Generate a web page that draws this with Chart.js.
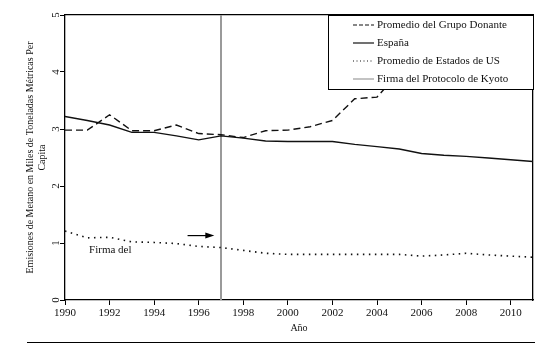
<!DOCTYPE html>
<html>
<head>
<meta charset="utf-8">
<script src="https://cdn.jsdelivr.net/npm/chart.js@4.4.0/dist/chart.umd.min.js"></script>
<style>
html, body { margin: 0; padding: 0; background: #fff; }
#wrap { position: relative; width: 554px; height: 350px; }
</style>
</head>
<body>
<div id="wrap"><canvas id="metano"></canvas></div>
<script>
// emisiones de metano per capita, 1990-2011
const years = [1990,1991,1992,1993,1994,1995,1996,1997,1998,1999,2000,2001,2002,2003,2004,2005,2006,2007,2008,2009,2010,2011];
// grupo donante: the rest is hidden behind the legend box
const donante = [2.98,2.98,3.25,2.97,2.97,3.07,2.92,2.90,2.85,2.97,2.98,3.04,3.15,3.53,3.56,4.00];
const espana = [3.22,3.15,3.07,2.94,2.94,2.88,2.81,2.88,2.84,2.79,2.78,2.78,2.78,2.73,2.69,2.65,2.57,2.54,2.52,2.49,2.46,2.43];
const usProm = [1.21,1.09,1.10,1.02,1.01,0.99,0.94,0.92,0.87,0.82,0.80,0.80,0.80,0.80,0.80,0.80,0.77,0.79,0.82,0.79,0.77,0.75];
const kyotoYear = 1997;
const yTicks = [0,1,2,3,4,5];

const serif = '"Liberation Serif", "DejaVu Serif", serif';
Chart.defaults.font.family = serif;
Chart.defaults.font.size = 11;
Chart.defaults.color = '#111';

function pts(arr) {
    return arr.map((v, i) => ({x: years[i], y: v}));
}

// legend drawn as a boxed panel in the top right corner
const legendBox = {
    id: 'legendBox',
    afterDatasetsDraw(chart) {
        const {ctx, chartArea} = chart;
        const w = 205, h = 74;
        const x0 = chartArea.right - w, y0 = chartArea.top;
        ctx.save();
        ctx.fillStyle = '#fff';
        ctx.fillRect(x0, y0, w, h);
        ctx.strokeStyle = '#000';
        ctx.lineWidth = 1;
        ctx.strokeRect(x0 + 0.5, y0 + 0.5, w, h);
        chart.data.datasets.forEach((ds, i) => {
            const y = y0 + 10 + i * 18;
            ctx.beginPath();
            ctx.setLineDash(ds.legendDash || []);
            ctx.strokeStyle = ds.borderColor;
            ctx.lineWidth = ds.legendWidth || 1.2;
            ctx.moveTo(x0 + 25, y);
            ctx.lineTo(x0 + 46, y);
            ctx.stroke();
            ctx.setLineDash([]);
            ctx.fillStyle = '#111';
            ctx.font = '11px ' + serif;
            ctx.textBaseline = 'middle';
            ctx.textAlign = 'left';
            ctx.fillText(ds.label, x0 + 49, y + 0.5);
        });
        ctx.restore();
    }
};

// arrow + "Firma del" note, and the rule under the figure
const notes = {
    id: 'notes',
    afterDraw(chart) {
        const {ctx} = chart;
        const xs = chart.scales.x, ys = chart.scales.y;
        const ax0 = xs.getPixelForValue(1995.5), ax1 = xs.getPixelForValue(1996.7);
        const ay = ys.getPixelForValue(1.13);
        ctx.save();
        ctx.strokeStyle = '#000';
        ctx.fillStyle = '#000';
        ctx.lineWidth = 1.2;
        ctx.beginPath();
        ctx.moveTo(ax0, ay);
        ctx.lineTo(ax1 - 6, ay);
        ctx.stroke();
        ctx.beginPath();
        ctx.moveTo(ax1, ay);
        ctx.lineTo(ax1 - 9, ay - 3);
        ctx.lineTo(ax1 - 9, ay + 3);
        ctx.closePath();
        ctx.fill();

        ctx.font = '11px ' + serif;
        ctx.fillStyle = '#111';
        ctx.textBaseline = 'middle';
        ctx.fillText('Firma del', xs.getPixelForValue(1991.08), ys.getPixelForValue(0.88));

        ctx.lineWidth = 1.2;
        ctx.beginPath();
        ctx.moveTo(27, 342.5);
        ctx.lineTo(535, 342.5);
        ctx.stroke();
        ctx.restore();
    }
};

new Chart('metano', {
    type: 'line',
    data: {
        datasets: [{
            label: 'Promedio del Grupo Donante',
            data: pts(donante),
            borderColor: '#111',
            borderWidth: 1.4,
            borderDash: [7, 4],
            legendDash: [4, 2],
            legendWidth: 1.2
        }, {
            label: 'España',
            data: pts(espana),
            borderColor: '#111',
            borderWidth: 1.4
        }, {
            label: 'Promedio de Estados de US',
            data: pts(usProm),
            borderColor: '#111',
            borderWidth: 1.6,
            borderDash: [1.5, 4.5],
            legendDash: [1, 2.5],
            legendWidth: 1
        }, {
            label: 'Firma del Protocolo de Kyoto',
            data: [{x: kyotoYear, y: 0}, {x: kyotoYear, y: 5}],
            borderColor: '#9a9a9a',
            borderWidth: 2,
            legendWidth: 1.2
        }]
    },
    plugins: [legendBox, notes],
    options: {
        responsive: true,
        maintainAspectRatio: false,
        animation: false,
        layout: { padding: 0 },
        elements: {
            point: { radius: 0 },
            line: { tension: 0 }
        },
        scales: {
            x: {
                type: 'linear',
                position: 'bottom',
                min: 1990,
                max: 2011,
                afterFit: s => { s.height = 50; },
                border: { color: '#000', width: 1.3 },
                grid: { drawOnChartArea: false, drawTicks: true, tickLength: 5, color: '#000' },
                ticks: {
                    stepSize: 2,
                    includeBounds: false,
                    padding: 2,
                    maxRotation: 0,
                    callback: v => String(v)
                },
                title: {
                    display: true,
                    text: 'Año',
                    font: { size: 10 },
                    padding: { top: 0, bottom: 16 }
                }
            },
            x2: {
                type: 'linear',
                position: 'top',
                min: 1990,
                max: 2011,
                afterFit: s => { s.height = 15; },
                border: { color: '#000', width: 1.3 },
                grid: { drawOnChartArea: false, drawTicks: false },
                ticks: { display: false }
            },
            y: {
                type: 'linear',
                position: 'left',
                min: 0,
                max: 5,
                afterFit: s => { s.width = 65; },
                afterBuildTicks: s => { s.ticks = yTicks.map(v => ({value: v})); },
                border: { color: '#000', width: 1.3 },
                grid: { drawOnChartArea: false, drawTicks: true, tickLength: 5, color: '#000' },
                ticks: {
                    minRotation: 90,
                    maxRotation: 90,
                    crossAlign: 'center',
                    padding: 1,
                    font: { size: 11 }
                },
                title: {
                    display: true,
                    text: ['Emisiones de Metano en Miles de Toneladas Métricas Per', 'Capita'],
                    font: { size: 10 },
                    padding: { top: 24, bottom: 0 }
                }
            },
            y2: {
                type: 'linear',
                position: 'right',
                min: 0,
                max: 5,
                afterFit: s => { s.width = 21; },
                border: { color: '#000', width: 1.3 },
                grid: { drawOnChartArea: false, drawTicks: false },
                ticks: { display: false }
            }
        },
        plugins: {
            legend: { display: false },
            title: { display: false },
            tooltip: { enabled: false }
        }
    }
});
</script>
</body>
</html>
